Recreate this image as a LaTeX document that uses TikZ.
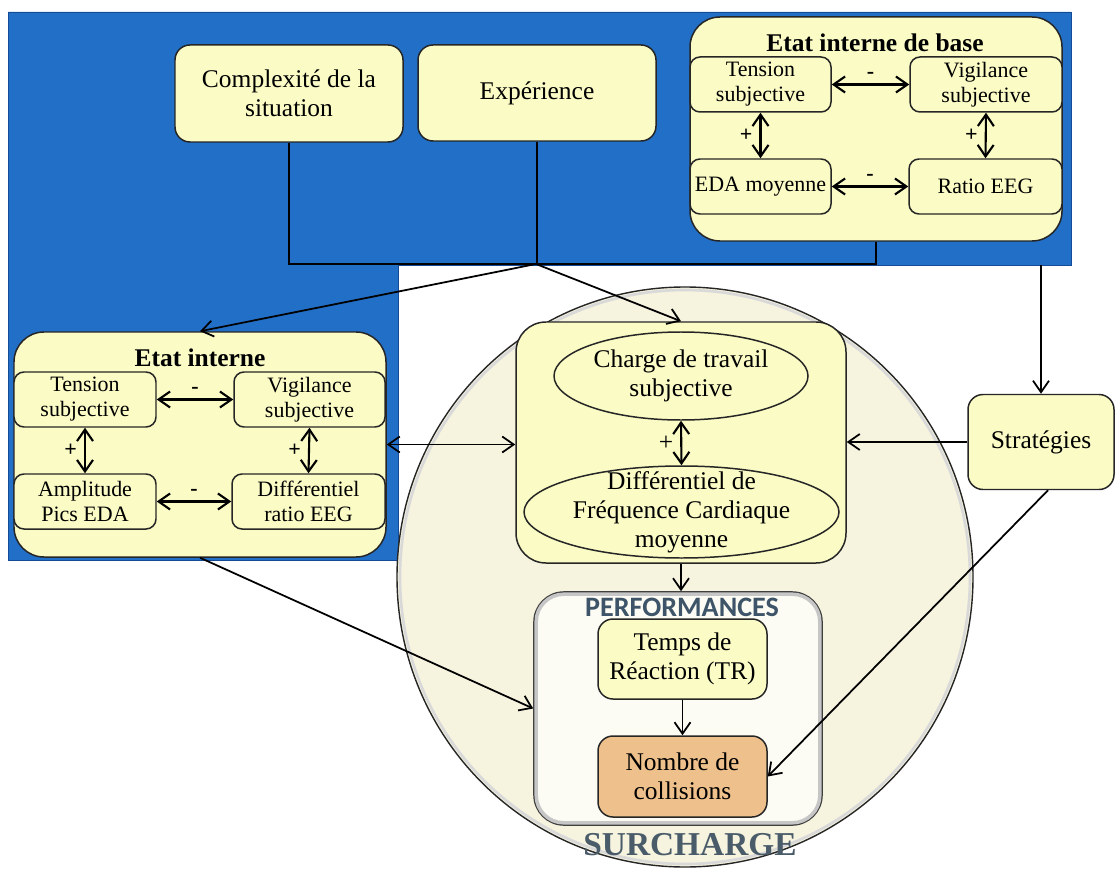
\documentclass[tikz,border=0pt]{standalone}
\usepackage{fontspec}
\setmainfont{Liberation Serif}
\newfontfamily\calibfont{Carlito}
\usetikzlibrary{arrows.meta,shapes.geometric,calc}
\definecolor{bluebg}{RGB}{34,111,199}
\definecolor{blueedge}{RGB}{20,75,150}
\definecolor{boxfill}{RGB}{251,251,198}
\definecolor{circfill}{RGB}{246,243,222}
\definecolor{perffill}{RGB}{252,252,244}
\definecolor{orangefill}{RGB}{238,192,140}
\definecolor{titlegrey}{RGB}{62,84,104}
\definecolor{surgrey}{RGB}{74,92,106}
\newcommand{\pxl}[1]{#1*0.02cm}
\newcommand{\MainSz}{\fontsize{14.5}{16.5}\selectfont}
\newcommand{\SmallSz}{\fontsize{12.5}{14.2}\selectfont}
\begin{document}
\begin{tikzpicture}[x=0.02cm,y=-0.02cm,
  box/.style={draw=black!85, line width=0.85pt, fill=boxfill, rounded corners=0.3cm, align=center, inner sep=0pt, font=\MainSz},
  ibox/.style={box, rounded corners=0.2cm, font=\SmallSz},
  grp/.style={draw=black!85, line width=0.85pt, fill=boxfill, rounded corners=0.6cm, inner sep=0pt},
  ell/.style={ellipse, draw=black!85, line width=0.85pt, fill=boxfill, align=center, inner sep=0pt, font=\MainSz},
  arr/.style={-{Straight Barb[length=2.3mm,width=3.2mm]}, line width=1pt},
  darr/.style={{Straight Barb[length=2.3mm,width=3.2mm]}-{Straight Barb[length=2.3mm,width=3.2mm]}, line width=1.2pt},
  sgn/.style={font=\SmallSz\bfseries, inner sep=1pt},
  ttl/.style={font=\MainSz\bfseries, inner sep=0pt}
]
\useasboundingbox (0,0) rectangle (1118,871);
\fill[white] (0,0) rectangle (1118,871);
% blue background region
\filldraw[fill=bluebg, draw=blueedge, line width=0.4pt] (8,12) -- (1071,12) -- (1071,265) -- (398,265) -- (398,560) -- (8,560) -- cycle;

% top boxes
\node[box, minimum width=\pxl{228}, minimum height=\pxl{97}] (complex) at (289,93.5) {Complexité de la\\situation};
\node[box, minimum width=\pxl{238}, minimum height=\pxl{96}] (exp) at (537,93) {Expérience};

% Etat interne de base
\node[grp, minimum width=\pxl{372}, minimum height=\pxl{224}] (base) at (876,129) {};
\node[ttl] (basetitle) at (875,43) {Etat interne de base};
\node[ibox, minimum width=\pxl{141}, minimum height=\pxl{55}] (tb) at (760.5,84.5) {Tension\\subjective};
\node[ibox, minimum width=\pxl{152}, minimum height=\pxl{55}] (vb) at (986,84.5) {Vigilance\\subjective};
\node[ibox, minimum width=\pxl{141}, minimum height=\pxl{55}] (eb) at (760.5,186.5) {EDA moyenne};
\node[ibox, minimum width=\pxl{153}, minimum height=\pxl{55}] (rb) at (985.5,186.5) {Ratio EEG};

% bracket lines
\coordinate (J) at (536,264);
\draw[line width=1pt] (complex.south) -- (complex.south |- J) -- (base.south |- J) -- (base.south);
\draw[line width=1pt] (exp.south) -- (exp.south |- J);

% big circle
\node[ellipse, draw=black!85, line width=0.8pt, fill=circfill, minimum width=\pxl{576}, minimum height=\pxl{580}, inner sep=0pt] (circ) at (685,577) {};
\draw[gray!30, line width=1.5pt] (685,577) ellipse [x radius=\pxl{285}, y radius=\pxl{287}];

% Etat interne (left)
\node[grp, minimum width=\pxl{372}, minimum height=\pxl{225}] (etat) at (200,444.5) {};
\node[ttl] (etattitle) at (200,358) {Etat interne};
\node[ibox, minimum width=\pxl{142}, minimum height=\pxl{55}] (tl) at (85,399.5) {Tension\\subjective};
\node[ibox, minimum width=\pxl{151}, minimum height=\pxl{55}] (vl) at (309.5,399.5) {Vigilance\\subjective};
\node[ibox, minimum width=\pxl{142}, minimum height=\pxl{55}] (al) at (85,501.5) {Amplitude\\Pics EDA};
\node[ibox, minimum width=\pxl{153}, minimum height=\pxl{55}] (dl) at (308.5,501.5) {Différentiel\\ratio EEG};

% central container
\node[grp, minimum width=\pxl{330}, minimum height=\pxl{241}] (cont) at (681,442.5) {};
\node[ell, minimum width=\pxl{254}, minimum height=\pxl{88}] (charge) at (681,376) {Charge de travail\\subjective};
\node[ell, minimum width=\pxl{315}, minimum height=\pxl{92}, inner ysep=-0.3cm] (diff) at (681.5,512) {Différentiel de\\Fréquence Cardiaque\\moyenne};

% Strategies
\node[box, minimum width=\pxl{146}, minimum height=\pxl{95}] (strat) at (1041,442) {Stratégies};

% Performances
\node[draw=black!75, line width=0.9pt, fill=perffill, rounded corners=0.6cm, minimum width=\pxl{288}, minimum height=\pxl{233}, inner sep=0pt] (perf) at (678,708.5) {};
\draw[gray!45, line width=2pt, rounded corners=0.55cm] ($(perf.north west)+(3,3)$) rectangle ($(perf.south east)+(-3,-3)$);
\node[font=\calibfont\fontsize{16}{18}\selectfont\bfseries, text=titlegrey, inner sep=0pt] (perftitle) at (682,607) {PERFORMANCES};
\node[box, minimum width=\pxl{169}, minimum height=\pxl{80}] (tr) at (682.5,659) {Temps de\\Réaction (TR)};
\node[box, fill=orangefill, minimum width=\pxl{169}, minimum height=\pxl{81}] (nombre) at (682.5,776.5) {Nombre de\\collisions};

\node[font=\fontsize{19}{21}\selectfont\bfseries, text=surgrey, inner sep=0pt] (surcharge) at (690,845) {SURCHARGE};

% inner double arrows (base)
\draw[darr] (tb.east) -- (vb.west) node[midway, above=2pt, sgn] {-};
\draw[darr] (eb.east) -- (rb.west) node[midway, above=2pt, sgn] {-};
\draw[darr] (tb.south) -- (eb.north) node[midway, left=3pt, sgn] {+};
\draw[darr] (vb.south) -- (rb.north) node[midway, left=3pt, sgn] {+};
% inner double arrows (left)
\draw[darr] (tl.east) -- (vl.west) node[midway, above=2pt, sgn] {-};
\draw[darr] (al.east) -- (dl.west) node[midway, above=2pt, sgn] {-};
\draw[darr] (tl.south) -- (al.north) node[midway, left=3pt, sgn] {+};
\draw[darr] (vl.south) -- (dl.north) node[midway, left=3pt, sgn] {+};
% charge <-> diff
\draw[darr] (charge.south) -- (diff.north) node[midway, left=3pt, sgn, font=\MainSz] {+};

% connectors
\draw[arr] (J) -- (etat.north);
\draw[arr] (J) -- (cont.north);
\draw[darr, line width=1pt] (etat.east) -- (etat.east -| cont.west);
\coordinate (S0) at (1041,265);
\draw[arr] (S0) -- (strat.north);
\draw[arr] (strat.west) -- (strat.west -| cont.east);
\draw[arr] (cont.south) -- (cont.south |- perf.north);
\draw[arr] (tr.south) -- (nombre.north);
\draw[arr] (etat.south) -- (perf.west);
\draw[arr] ([xshift=\pxl{7}]strat.south) -- (nombre.east);
\end{tikzpicture}
\end{document}
